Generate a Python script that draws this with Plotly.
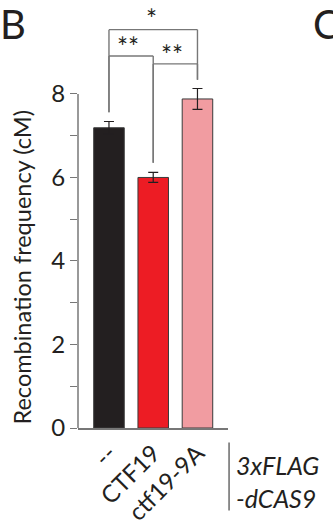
import plotly.graph_objects as go

categories = ["--", "CTF19", "ctf19-9A"]
values = [7.19, 6.00, 7.88]
errors = [0.15, 0.12, 0.25]
colors = ["#231f20", "#ed1c24", "#f19ca1"]
y_ticks = [0, 1, 2, 3, 4, 5, 6, 7, 8]
y_ticktext = ["0", "", "2", "", "4", "", "6", "", "8"]
# significance comparisons: (left index, right index, bracket height, left leg bottom, right leg bottom, label)
comparisons = [
    (0, 1, 8.91, 7.56, 6.35, "**"),
    (1, 2, 8.72, 6.35, 8.34, "**"),
    (0, 2, 9.54, 7.56, 8.34, "*"),
]

FONT = "Lato"
idx = list(range(len(categories)))

fig = go.Figure()
fig.add_trace(go.Bar(
    x=idx, y=values, width=0.69,
    marker=dict(color=colors, line=dict(color="#3a3a3a", width=1)),
    error_y=dict(type="data", array=errors, color="#231f20", thickness=1.2, width=5),
))

shapes = []
annotations = []
gray = "#777777"
for (a, b, h, la, lb, lab) in comparisons:
    shapes.append(dict(type="line", xref="x", yref="y", x0=a, x1=b, y0=h, y1=h, line=dict(color=gray, width=1.4)))
    shapes.append(dict(type="line", xref="x", yref="y", x0=a, x1=a, y0=la, y1=h, line=dict(color=gray, width=1.4)))
    shapes.append(dict(type="line", xref="x", yref="y", x0=b, x1=b, y0=lb, y1=h, line=dict(color=gray, width=1.4)))
# star labels
star_font = dict(family=FONT, size=26, color="#231f20")
annotations.append(dict(x=0.43, y=9.12, xref="x", yref="y", text="**", showarrow=False, font=star_font,
                        xanchor="center", yanchor="middle"))
annotations.append(dict(x=1.42, y=8.93, xref="x", yref="y", text="**", showarrow=False, font=star_font,
                        xanchor="center", yanchor="middle"))
annotations.append(dict(x=0.97, y=9.79, xref="x", yref="y", text="*", showarrow=False, font=star_font,
                        xanchor="center", yanchor="middle"))

# y axis line up to 8
shapes.append(dict(type="line", xref="paper", yref="y", x0=0, x1=0, y0=0, y1=8, line=dict(color=gray, width=1.5)))
# vertical separator line next to construct label
shapes.append(dict(type="line", xref="paper", yref="paper", x0=1.007, x1=1.007, y0=-0.034, y1=-0.193, line=dict(color="#444444", width=1.2)))

annotations.append(dict(x=1.04, y=-0.125, xref="paper", yref="paper", xanchor="left", yanchor="middle",
                        text="<i>3xFLAG</i><br><i>-dCAS9</i>", align="left", showarrow=False,
                        font=dict(family=FONT, size=25, color="#231f20")))
annotations.append(dict(x=-0.38, y=0.375, xref="paper", yref="paper", text="Recombination frequency (cM)",
                        xanchor="center", yanchor="middle",
                        textangle=-90, showarrow=False, font=dict(family=FONT, size=23.5, color="#231f20")))
annotations.append(dict(x=-0.535, y=0.945, xref="paper", yref="paper", xanchor="left", yanchor="middle", text="B",
                        showarrow=False, font=dict(family=FONT, size=40, color="#231f20")))
annotations.append(dict(x=1.555, y=0.945, xref="paper", yref="paper", xanchor="left", yanchor="middle", text="C",
                        showarrow=False, font=dict(family=FONT, size=40, color="#231f20")))

fig.update_layout(
    template="none",
    width=333, height=530,
    margin=dict(l=78, r=105, t=0, b=102, pad=0),
    plot_bgcolor="white", paper_bgcolor="white",
    showlegend=False,
    shapes=shapes, annotations=annotations,
    xaxis=dict(range=[-0.70, 2.69], tickmode="array", tickvals=idx, ticktext=categories,
               tickangle=-45, showline=True, linecolor=gray, linewidth=1.5, ticks="", automargin=False,
               showgrid=False, zeroline=False, tickfont=dict(family=FONT, size=24, color="#231f20")),
    yaxis=dict(range=[0, 10.25], tickmode="array", tickvals=y_ticks, ticktext=y_ticktext, automargin=False,
               ticks="outside", ticklen=7, tickcolor=gray, tickwidth=1.2, showline=False,
               showgrid=False, zeroline=False, tickfont=dict(family=FONT, size=24, color="#231f20")),
)
fig.write_html("out.html", config={"displayModeBar": False},
               post_script="document.body.style.margin='0';document.body.style.overflow='hidden';")
